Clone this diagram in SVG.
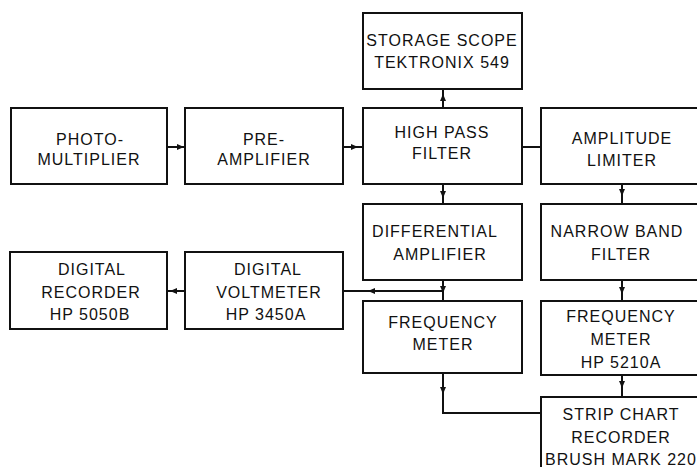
<svg xmlns="http://www.w3.org/2000/svg" xmlns:xlink="http://www.w3.org/1999/xlink" width="697" height="467" viewBox="0 0 697 467">
<style>
.box{fill:#fff;stroke:#111;stroke-width:2}
.ln{fill:none;stroke:#111;stroke-width:2}
text{font-family:"Liberation Sans",Arial,sans-serif;font-size:16px;letter-spacing:1px;fill:#111;text-anchor:middle}
</style>
<defs>
<path id="ah" d="M0,0 L-7,-3 L-7,3 Z" fill="#111"/>
</defs>
<rect width="697" height="467" fill="#fff"/>
<g id="connectors">
<line class="ln" x1="167" y1="147" x2="185" y2="147"/>
<line class="ln" x1="343" y1="147" x2="363" y2="147"/>
<line class="ln" x1="443" y1="89" x2="443" y2="108"/>
<line class="ln" x1="522" y1="147" x2="541" y2="147"/>
<line class="ln" x1="443" y1="184" x2="443" y2="204"/>
<line class="ln" x1="622" y1="184" x2="622" y2="204"/>
<line class="ln" x1="443" y1="280" x2="443" y2="301"/>
<line class="ln" x1="443" y1="291" x2="343" y2="291"/>
<line class="ln" x1="185" y1="291" x2="167" y2="291"/>
<line class="ln" x1="622" y1="280" x2="622" y2="301"/>
<line class="ln" x1="622" y1="375" x2="622" y2="397"/>
<polyline class="ln" points="443,373 443,413 541,413"/>
<use xlink:href="#ah" transform="translate(184,147)"/>
<use xlink:href="#ah" transform="translate(358,147)"/>
<use xlink:href="#ah" transform="translate(443,94) rotate(-90)"/>
<use xlink:href="#ah" transform="translate(443,198) rotate(90)"/>
<use xlink:href="#ah" transform="translate(622,196) rotate(90)"/>
<use xlink:href="#ah" transform="translate(443,293) rotate(90)"/>
<use xlink:href="#ah" transform="translate(368,291) rotate(180)"/>
<use xlink:href="#ah" transform="translate(170,291) rotate(180)"/>
<use xlink:href="#ah" transform="translate(622,294) rotate(90)"/>
<use xlink:href="#ah" transform="translate(622,388) rotate(90)"/>
<use xlink:href="#ah" transform="translate(443,394) rotate(90)"/>
</g>
<g id="photomultiplier">
<rect class="box" x="11" y="108" width="156" height="76"/>
<text x="90" y="145">PHOTO-</text>
<text x="89" y="165">MULTIPLIER</text>
</g>
<g id="preamplifier">
<rect class="box" x="185" y="108" width="158" height="76"/>
<text x="264" y="145">PRE-</text>
<text x="264" y="165">AMPLIFIER</text>
</g>
<g id="storagescope">
<rect class="box" x="363" y="13" width="159" height="76"/>
<text x="442" y="46">STORAGE SCOPE</text>
<text x="442" y="68">TEKTRONIX 549</text>
</g>
<g id="highpass">
<rect class="box" x="363" y="108" width="159" height="76"/>
<text x="442" y="138">HIGH PASS</text>
<text x="442" y="159">FILTER</text>
</g>
<g id="amplitudelimiter">
<rect class="box" x="541" y="108" width="162" height="76"/>
<text x="622" y="144">AMPLITUDE</text>
<text x="622" y="166">LIMITER</text>
</g>
<g id="diffamp">
<rect class="box" x="363" y="204" width="159" height="76"/>
<text x="435" y="237">DIFFERENTIAL</text>
<text x="440" y="260">AMPLIFIER</text>
</g>
<g id="narrowband">
<rect class="box" x="541" y="204" width="162" height="76"/>
<text x="617" y="237">NARROW BAND</text>
<text x="621" y="260">FILTER</text>
</g>
<g id="digitalrecorder">
<rect class="box" x="10" y="252" width="157" height="77"/>
<text x="92" y="275">DIGITAL</text>
<text x="91" y="298">RECORDER</text>
<text x="90" y="320">HP 5050B</text>
</g>
<g id="digitalvoltmeter">
<rect class="box" x="185" y="252" width="158" height="77"/>
<text x="268" y="275">DIGITAL</text>
<text x="269" y="298">VOLTMETER</text>
<text x="266" y="320">HP 3450A</text>
</g>
<g id="frequencymeter">
<rect class="box" x="363" y="301" width="159" height="72"/>
<text x="443" y="328">FREQUENCY</text>
<text x="443" y="350">METER</text>
</g>
<g id="frequencymeterhp">
<rect class="box" x="541" y="301" width="162" height="74"/>
<text x="621" y="322">FREQUENCY</text>
<text x="621" y="345">METER</text>
<text x="621" y="368">HP 5210A</text>
</g>
<g id="stripchart">
<rect class="box" x="541" y="397" width="162" height="80"/>
<text x="621" y="420">STRIP CHART</text>
<text x="621" y="443">RECORDER</text>
<text x="621" y="465">BRUSH MARK 220</text>
</g>
</svg>
